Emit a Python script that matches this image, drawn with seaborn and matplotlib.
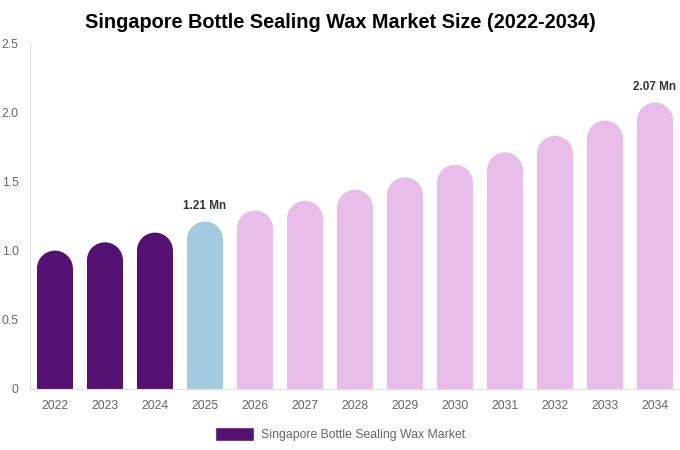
"""Singapore Bottle Sealing Wax Market Size (2022-2034)"""
import matplotlib

matplotlib.use("Agg")
from matplotlib import pyplot as plt
from matplotlib.patches import Ellipse, Rectangle, Patch
from pandas import DataFrame
import seaborn as sns

years = ["2022", "2023", "2024", "2025", "2026", "2027", "2028",
         "2029", "2030", "2031", "2032", "2033", "2034"]
market_size = [1.00, 1.06, 1.13, 1.21, 1.29, 1.36, 1.44,
               1.53, 1.62, 1.71, 1.83, 1.94, 2.07]
period = ["past", "past", "past", "base", "forecast", "forecast", "forecast",
          "forecast", "forecast", "forecast", "forecast", "forecast", "forecast"]
labelled = {"2025": "1.21 Mn", "2034": "2.07 Mn"}

palette = {"past": "#541171", "base": "#a4cadf", "forecast": "#e8bde9"}

df = DataFrame({"Year": years, "Size": market_size, "Period": period})

sns.set_style("white")
plt.rcParams["font.family"] = ["Liberation Sans", "DejaVu Sans"]

fig = plt.figure(figsize=(6.8, 4.5), dpi=100)
ax = fig.add_axes([0.044, 0.1356, 0.956, 0.7688])

sns.barplot(data=df, x="Year", y="Size", hue="Period", palette=palette,
            width=0.72, dodge=False, legend=False, saturation=1, ax=ax)
ax.set_xlim(-0.5, len(years) - 0.5)
ax.set_ylim(0, 2.5)

# rounded tops: replace each bar with a rectangle + ellipse that looks circular
fig.canvas.draw()
bbox = ax.get_window_extent()
x_per_px = (ax.get_xlim()[1] - ax.get_xlim()[0]) / bbox.width
y_per_px = (ax.get_ylim()[1] - ax.get_ylim()[0]) / bbox.height
bars = list(ax.patches)
for bar in bars:
    x, w, h = bar.get_x(), bar.get_width(), bar.get_height()
    color = bar.get_facecolor()
    bar.remove()
    ry = (w / 2) / x_per_px * y_per_px
    ax.add_patch(Rectangle((x, 0), w, h - ry, facecolor=color, edgecolor="none"))
    ax.add_patch(Ellipse((x + w / 2, h - ry), w, 2 * ry,
                         facecolor=color, edgecolor="none"))

for i, (yr, v) in enumerate(zip(years, market_size)):
    if yr in labelled:
        ax.annotate(labelled[yr], (i, v), xytext=(0, 7), textcoords="offset points",
                    ha="center", va="bottom", fontsize=8.5, fontweight="bold",
                    color="#333333")

ax.set_yticks([0, 0.5, 1.0, 1.5, 2.0, 2.5])
ax.set_yticklabels(["0", "0.5", "1.0", "1.5", "2.0", "2.5"])
ax.tick_params(axis="both", length=0, labelsize=8.8, colors="#666666")
ax.tick_params(axis="y", pad=8)
ax.tick_params(axis="x", pad=8)
ax.set_xlabel("")
ax.set_ylabel("")
for side in ("top", "right"):
    ax.spines[side].set_visible(False)
for side in ("left", "bottom"):
    ax.spines[side].set_color("#e0e0e0")
    ax.spines[side].set_linewidth(0.8)

ax.set_title("Singapore Bottle Sealing Wax Market Size (2022-2034)",
             fontsize=14.3, fontweight="bold", color="#000000", pad=11, x=0.477)

ax.legend(handles=[Patch(facecolor=palette["past"], label="Singapore Bottle Sealing Wax Market")],
          loc="center", bbox_to_anchor=(0.477, -0.13), frameon=False,
          fontsize=8.8, labelcolor="#666666", handlelength=3.2, handleheight=1.4,
          handletextpad=0.5)

fig.savefig("out.png", dpi=100)
